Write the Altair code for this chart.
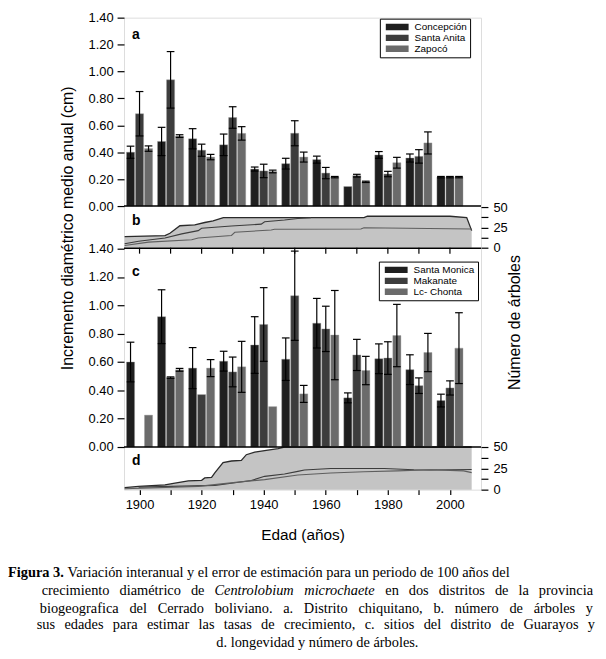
import unicodedata
import altair as alt
import pandas as pd

# ---------------- data ----------------
decades = [1900, 1910, 1920, 1930, 1940, 1950, 1960, 1970, 1980, 1990, 2000]

series_a = ["Concepción", "Santa Anita", "Zapocó"]
a_concepcion = [0.40, 0.48, 0.50, 0.455, 0.275, 0.315, 0.345, 0.145, 0.38, 0.357, 0.215]
a_concepcion_err = [0.045, 0.105, 0.075, 0.08, 0.015, 0.04, 0.026, 0.0, 0.025, 0.03, 0.005]
a_santa_anita = [0.686, 0.938, 0.415, 0.658, 0.261, 0.541, 0.245, 0.226, 0.238, 0.369, 0.215]
a_santa_anita_err = [0.165, 0.21, 0.045, 0.08, 0.05, 0.093, 0.042, 0.01, 0.02, 0.05, 0.005]
a_zapoco = [0.427, 0.52, 0.364, 0.54, 0.257, 0.364, 0.215, 0.18, 0.322, 0.469, 0.215]
a_zapoco_err = [0.02, 0.01, 0.02, 0.05, 0.01, 0.037, 0.005, 0.005, 0.04, 0.082, 0.005]

series_c = ["Santa Monica", "Makanate", "Lc- Chonta"]
c_santa_monica = [0.60, 0.92, 0.557, 0.606, 0.72, 0.62, 0.874, 0.347, 0.623, 0.546, 0.328]
c_santa_monica_err = [0.14, 0.19, 0.145, 0.07, 0.2, 0.15, 0.175, 0.035, 0.105, 0.105, 0.045]
c_makanate = [None, 0.49, 0.37, 0.53, 0.865, 1.068, 0.834, 0.65, 0.628, 0.433, 0.417]
c_makanate_err = [None, 0.005, 0.0, 0.105, 0.26, 0.315, 0.16, 0.11, 0.115, 0.055, 0.05]
c_lc_chonta = [0.225, 0.545, 0.557, 0.566, 0.285, 0.375, 0.79, 0.54, 0.787, 0.667, 0.698]
c_lc_chonta_err = [0.0, 0.01, 0.06, 0.18, 0.0, 0.06, 0.315, 0.10, 0.22, 0.135, 0.25]

# panel b: number of trees (cumulative)
b_years_all = [1895.2, 1908.2, 1909.8, 1913.0, 1917.8, 1921.0, 1923.7, 1927.0, 1972.3, 1973.4, 2000.0, 2005.4, 2007.0]
b_all = [13.7, 14.9, 17.7, 27.0, 28.2, 31.0, 33.0, 37.0, 37.0, 38.7, 38.7, 37.0, 21.0]
b_years_mid = [1895.2, 1899.7, 1908.2, 1913.6, 1918.9, 1920.0, 1929.6, 1939.2, 1940.3, 1946.7, 1951.0, 1955.2]
b_mid = [4.8, 8.0, 12.0, 17.0, 21.0, 24.0, 26.6, 29.0, 32.0, 34.0, 36.0, 37.0]
b_years_low = [1895.2, 1902.9, 1916.8, 1918.9, 1929.6, 1930.7, 1942.4, 1943.5, 1971.3, 1972.3, 2007.0]
b_low = [2.8, 6.9, 9.7, 12.0, 15.0, 19.0, 21.8, 22.6, 23.0, 24.5, 23.0]

# panel d
d_years_all = [1895.2, 1899.7, 1908.2, 1911.4, 1915.7, 1920.0, 1921.0, 1923.2, 1924.3, 1926.9, 1929.6,
               1932.8, 1934.4, 1937.1, 1940.3, 1944.6, 1946.7, 2007.0]
d_all = [2.3, 3.8, 5.7, 7.6, 10.3, 11.0, 13.7, 14.5, 20.0, 31.7, 33.6, 34.4, 41.0, 44.0, 45.8, 48.0, 50.0, 50.0]
d_years_mid = [1899.7, 1924.3, 1929.6, 1936.0, 1940.3, 1946.7, 1951.0, 1953.1, 1961.6, 1978.8, 1988.4, 1993.7, 2007.0]
d_mid = [3.0, 5.0, 7.6, 10.7, 15.6, 18.3, 21.4, 23.0, 24.8, 24.8, 23.3, 23.0, 23.7]
d_years_low = [1895.2, 1918.9, 1931.7, 1940.3, 1951.0, 1961.6, 1972.3, 1983.0, 1993.7, 2004.4, 2007.0]
d_low = [1.1, 3.8, 8.8, 11.8, 17.2, 19.5, 21.0, 22.0, 23.3, 22.0, 20.0]

left_ticks = [0.0, 0.2, 0.4, 0.6, 0.8, 1.0, 1.2, 1.4]
right_ticks = [0, 12.5, 25, 37.5, 50]

y_title = "Incremento diamétrico medio anual (cm)"
y2_title = "Número de árboles"
x_title = "Edad (años)"

caption_1a = "Figura 3."
caption_1b = "Variación interanual y el error de estimación para un periodo de 100 años del"
caption_2 = [("crecimiento diamétrico de", "normal"), ("Centrolobium microchaete", "italic"),
             ("en dos distritos de la provincia", "normal")]
caption_3 = "biogeografica del Cerrado boliviano. a. Distrito chiquitano, b. número de árboles y"
caption_4 = "sus edades para estimar las tasas de crecimiento, c. sitios del distrito de Guarayos y"
caption_5 = "d. longevidad y número de árboles."

# ---------------- styling / layout ----------------
SANS = "Liberation Sans"
SERIF = "Liberation Serif"
W, H = 360, 476
A_RANGE = [190, 0]
B_RANGE = [232, 191]
C_RANGE = [433, 233]
D_RANGE = [476, 433]
bar_colors = ["#1f1f1f", "#3d3d3d", "#6b6b6b"]
fill_gray = "#c4c4c4"
offsets = [-2.9, 0.0, 2.9]
half_w = 1.3

xs = alt.Scale(domain=[1895, 2010], nice=False, zero=False)
xaxis = alt.Axis(title=x_title, values=decades, format="d",
                 labelExpr="datum.value % 20 == 0 ? datum.label : ''",
                 tickSize=5, tickColor="black", tickWidth=1.2, labelPadding=4.5,
                 labelFontSize=13, labelFont=SANS, labelColor="black",
                 titleFontSize=15.5, titleFont=SANS, titleFontWeight="normal",
                 titleColor="black", titlePadding=16, domain=False, grid=False)


def bar_frame(names, vals_list, errs_list):
    rows = []
    for name, vals, errs, off in zip(names, vals_list, errs_list, offsets):
        for dec, v, e in zip(decades, vals, errs):
            if v is None:
                continue
            e = e or 0.0
            c = dec + off
            rows.append(dict(serie=name, x0=c - half_w, x1=c + half_w, xc=c,
                             cl=c - half_w * 0.95, cr=c + half_w * 0.95,
                             val=v, base=0.0, lo=v - e, hi=v + e, err=e))
    return pd.DataFrame(rows)


def left_axis(title):
    kw = dict(orient="left", values=left_ticks, format=".2f", tickSize=7, tickColor="black",
              tickWidth=1.2, labelPadding=4, labelFontSize=13, labelFont=SANS,
              labelColor="black", domain=False, grid=False)
    if title:
        kw.update(title=title, titleFontSize=16, titleFont=SANS, titleFontWeight="normal",
                  titleColor="black", titleX=-57, titleY=212, titleAngle=270,
                  titleAlign="center", titleBaseline="middle")
    else:
        kw.update(title="")
    return alt.Axis(**kw)


def right_axis(title):
    kw = dict(orient="right", values=right_ticks,
              labelExpr="datum.value % 25 == 0 ? datum.label : ''",
              tickSize=7, tickColor="black", tickWidth=1.2, labelPadding=5,
              labelFontSize=13, labelFont=SANS, labelColor="black",
              domain=False, grid=False)
    if title:
        kw.update(title=title, titleFontSize=16, titleFont=SANS, titleFontWeight="normal",
                  titleColor="black", titleX=34, titleY=307, titleAngle=270,
                  titleAlign="center", titleBaseline="middle")
    else:
        kw.update(title="")
    return alt.Axis(**kw)


def legend(x, y):
    return alt.Legend(orient="none", legendX=x, legendY=y, title=None,
                      fillColor="white", strokeColor="black", padding=3,
                      symbolType="M-1,-0.28H1V0.28H-1Z", symbolSize=529,
                      symbolStrokeWidth=0, symbolOpacity=1, symbolOffset=3, clipHeight=10.8,
                      labelFontSize=10, labelFont=SANS, labelColor="black",
                      labelOffset=6, rowPadding=0)


def bar_panel(df, names, yrange, axis, leg):
    ys = alt.Scale(domain=[0, 1.4], range=yrange, nice=False, zero=True)
    base = alt.Chart(df)
    bars = base.mark_rect(stroke="#9a9a9a", strokeWidth=0.4).encode(
        x=alt.X("x0:Q", scale=xs, axis=xaxis), x2="x1:Q",
        y=alt.Y("val:Q", scale=ys, axis=axis), y2="base:Q",
        color=alt.Color("serie:N", scale=alt.Scale(domain=names, range=bar_colors), legend=leg),
    )
    eb = base.transform_filter("datum.err > 0")
    v = eb.mark_rule(color="black", strokeWidth=1.2).encode(
        x=alt.X("xc:Q", scale=xs, axis=xaxis),
        y=alt.Y("lo:Q", scale=ys, axis=None), y2="hi:Q")
    top = eb.mark_rule(color="black", strokeWidth=1.2).encode(
        x=alt.X("cl:Q", scale=xs, axis=xaxis), x2="cr:Q",
        y=alt.Y("hi:Q", scale=ys, axis=None))
    bot = eb.mark_rule(color="black", strokeWidth=1.2).encode(
        x=alt.X("cl:Q", scale=xs, axis=xaxis), x2="cr:Q",
        y=alt.Y("lo:Q", scale=ys, axis=None))
    return [bars, v, top, bot]


def count_panel(yrs_all, v_all, yrs_mid, v_mid, yrs_low, v_low, yrange, axis):
    ys = alt.Scale(domain=[0, 50], range=yrange, nice=False, zero=True)
    df_all = pd.DataFrame({"yr": yrs_all, "n": v_all})
    df_mid = pd.DataFrame({"yr": yrs_mid, "n": v_mid})
    df_low = pd.DataFrame({"yr": yrs_low, "n": v_low})
    area = alt.Chart(df_all).mark_area(color=fill_gray, opacity=1).encode(
        x=alt.X("yr:Q", scale=xs, axis=xaxis), y=alt.Y("n:Q", scale=ys, axis=axis))
    l_all = alt.Chart(df_all).mark_line(color="#2a2a2a", strokeWidth=1.3).encode(
        x=alt.X("yr:Q", scale=xs, axis=xaxis), y=alt.Y("n:Q", scale=ys, axis=None))
    l_mid = alt.Chart(df_mid).mark_line(color="#3c3c3c", strokeWidth=1.1).encode(
        x=alt.X("yr:Q", scale=xs, axis=xaxis), y=alt.Y("n:Q", scale=ys, axis=None))
    l_low = alt.Chart(df_low).mark_line(color="#5e5e5e", strokeWidth=1.1).encode(
        x=alt.X("yr:Q", scale=xs, axis=xaxis), y=alt.Y("n:Q", scale=ys, axis=None))
    return [area, l_all, l_mid, l_low]


one = pd.DataFrame({"k": [0]})


def text_at(txt, x, y, size, font=SANS, weight="normal", style="normal", align="left"):
    return alt.Chart(one).mark_text(text=txt, font=font, fontSize=size, fontWeight=weight,
                                    fontStyle=style, align=align, baseline="middle",
                                    color="black").encode(x=alt.value(x), y=alt.value(y))


def hline(y):
    return alt.Chart(one).mark_rule(color="black", strokeWidth=1.5).encode(
        x=alt.value(0), x2=alt.value(W), y=alt.value(y))


# ---- approximate Times (Liberation Serif) advance widths, per 1000 em ----
_ROMAN = dict(zip("abcdefghijklmnopqrstuvwxyz",
                  [444, 500, 444, 500, 444, 333, 500, 500, 278, 278, 500, 278, 778, 500, 500,
                   500, 500, 333, 389, 278, 500, 500, 722, 500, 500, 444]))
_ROMAN.update(dict(zip("ABCDEFGHIJKLMNOPQRSTUVWXYZ",
                       [722, 667, 667, 722, 611, 556, 722, 722, 333, 389, 722, 611, 889, 722, 722,
                        556, 722, 667, 556, 611, 722, 722, 944, 722, 722, 611])))
_ROMAN.update({" ": 250, ".": 250, ",": 250, "-": 333, "(": 333, ")": 333})
_ITALIC = dict(_ROMAN)
_ITALIC.update({"a": 500, "f": 278, "k": 444, "m": 722, "r": 389, "v": 444, "w": 667,
                "x": 444, "y": 444, "z": 389})


def text_width(s, size, table=_ROMAN):
    tot = 0
    for ch in s:
        base = unicodedata.normalize("NFD", ch)[0]
        tot += table.get(base, 500)
    return tot / 1000.0 * size


CS = 14.5
OX = -125  # plot x = page x + OX
OY = -15   # plot y = page y + OY


def justified(words, x0, x1, y):
    """words: list of (word, style); spread between page x0 and x1."""
    widths = [text_width(w, CS, _ITALIC if s == "italic" else _ROMAN) for w, s in words]
    gap = (x1 - x0 - sum(widths)) / (len(words) - 1)
    out = []
    x = x0
    for i, ((w, s), wd) in enumerate(zip(words, widths)):
        if i == len(words) - 1:
            out.append(text_at(w, x1 + OX, y + OY, CS, font=SERIF, style=s, align="right"))
        else:
            out.append(text_at(w, x + OX, y + OY, CS, font=SERIF, style=s))
        x += wd + gap
    return out


df_a = bar_frame(series_a, [a_concepcion, a_santa_anita, a_zapoco],
                 [a_concepcion_err, a_santa_anita_err, a_zapoco_err])
df_c = bar_frame(series_c, [c_santa_monica, c_makanate, c_lc_chonta],
                 [c_santa_monica_err, c_makanate_err, c_lc_chonta_err])

layers = []
layers += count_panel(b_years_all, b_all, b_years_mid, b_mid, b_years_low, b_low, B_RANGE, right_axis(y2_title))
layers += count_panel(d_years_all, d_all, d_years_mid, d_mid, d_years_low, d_low, D_RANGE, right_axis(None))
layers += bar_panel(df_a, series_a, A_RANGE, left_axis(y_title), legend(258, 1))
layers += bar_panel(df_c, series_c, C_RANGE, left_axis(None), legend(257, 246))

# decade ticks under panel b
tick_df = pd.DataFrame({"dec": decades})
layers.append(alt.Chart(tick_df).mark_rule(color="black", strokeWidth=1.2).encode(
    x=alt.X("dec:Q", scale=xs, axis=xaxis), y=alt.value(232), y2=alt.value(238)))

layers += [hline(190), hline(232.5), hline(433)]

# panel letters
layers += [text_at("a", 8, 18, 14, weight="bold"), text_at("b", 8, 205, 14, weight="bold"),
           text_at("c", 8, 257, 14, weight="bold"), text_at("d", 8, 447, 14, weight="bold")]

# caption
w_fig = text_width(caption_1a, CS, dict(_ROMAN, F=611, u=556, r=444, a=500))
layers.append(text_at(caption_1a, 8 + OX, 575 + OY, CS, font=SERIF, weight="bold"))
layers.append(text_at(caption_1b, 8 + w_fig + 3.6 + OX, 575 + OY, CS, font=SERIF))
words2 = []
for chunk, st in caption_2:
    words2 += [(w, st) for w in chunk.split(" ")]
layers += justified(words2, 42, 598, 593)
layers += justified([(w, "normal") for w in caption_3.split(" ")], 40, 598, 611)
layers += justified([(w, "normal") for w in caption_4.split(" ")], 37, 600, 628)
layers.append(text_at(caption_5, 320 + OX, 646 + OY, CS, font=SERIF, align="center"))

chart = alt.layer(*layers).resolve_scale(y="independent", color="independent").resolve_axis(
    y="independent").properties(
    width=W, height=H,
    autosize=alt.AutoSizeParams(type="none"),
    padding={"left": 117, "top": 7, "right": 118, "bottom": 163},
).configure_view(stroke="black", strokeWidth=1.5).configure(background="white")

chart.save("out.html", embed_options={"renderer": "svg", "actions": False})
